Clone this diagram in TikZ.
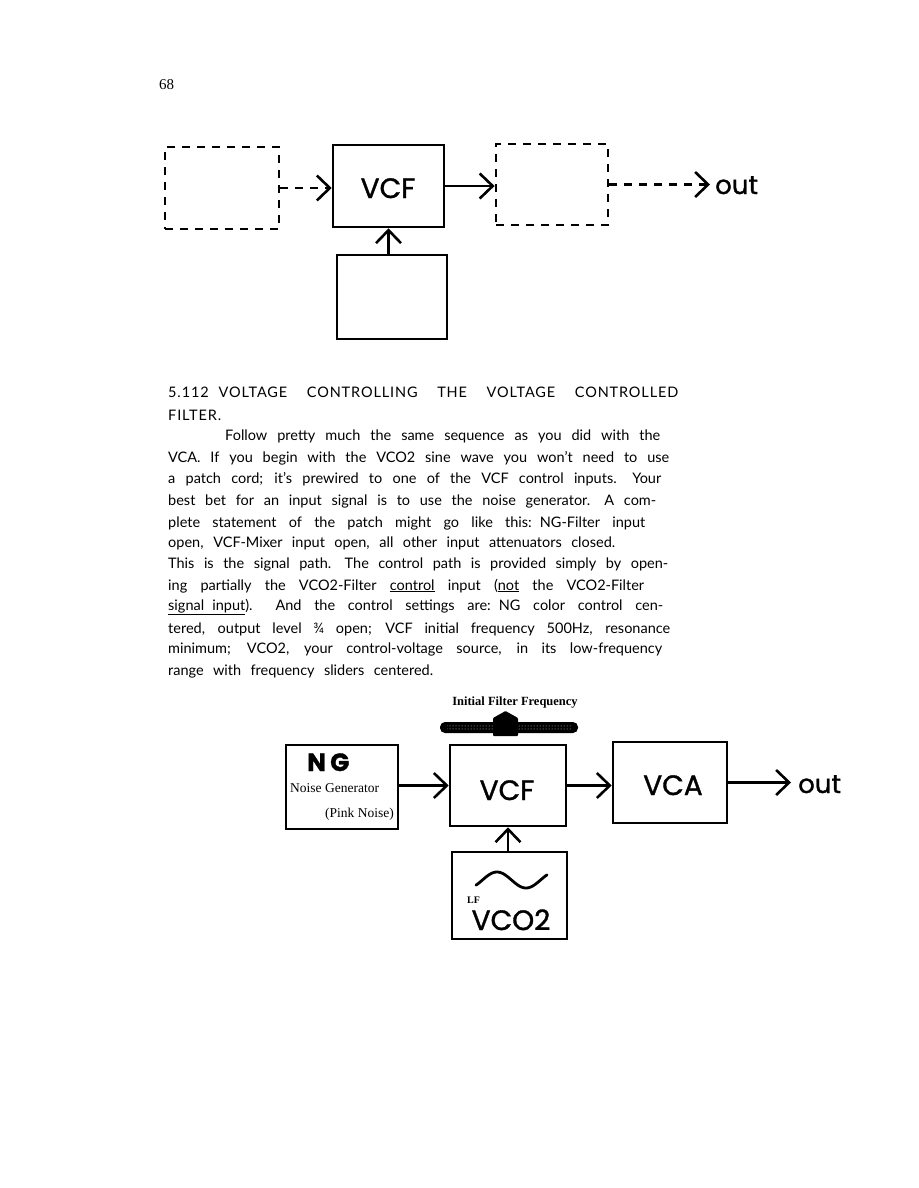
\documentclass[tikz,border=0pt]{standalone}
\usepackage{fontspec}
\setmainfont[WordSpace=2.2]{Lato}
\newfontfamily\headfont[LetterSpace=6, WordSpace=2]{Lato}
\newfontfamily\pop[FakeBold=1.2]{Poppins}
\newfontfamily\tms{Liberation Serif}
\usetikzlibrary{arrows.meta,patterns}
\begin{document}
\begin{tikzpicture}[x=1pt,y=-1pt,
  box/.style={draw, line width=2.6pt, inner sep=0pt},
  dbox/.style={draw, line width=2.8pt, dash pattern=on 8pt off 7pt, inner sep=0pt},
  chev/.style={-{Straight Barb[length=13pt,width=25pt,line width=2.6pt]}, line width=2.6pt},
  dchev/.style={chev, dash pattern=on 8pt off 7pt},
  big/.style={anchor=base, inner sep=0pt, font=\pop\fontsize{28}{30}\selectfont},
  txt/.style={anchor=base west, inner sep=0pt, font=\fontsize{14.5}{18}\selectfont},
  head/.style={anchor=base west, inner sep=0pt, font=\headfont\fontsize{14.5}{18}\selectfont},
  serif/.style={anchor=base west, inner sep=0pt, font=\tms\fontsize{13.5}{15}\selectfont}]
\useasboundingbox (0,0) rectangle (918,1188);
% page number
\node[anchor=base west, inner sep=0pt, font=\tms\fontsize{15}{17}\selectfont] (pg) at (159,90) {68};
% ---------- top diagram ----------
\node[dbox, minimum width=114pt, minimum height=82pt] (d1) at (222,188) {};
\node[box, minimum width=111pt, minimum height=82pt] (vcfa) at (388.5,186) {};
\node[big] (vcfat) at (388,198) {VCF};
\node[box, minimum width=110pt, minimum height=84pt] (ctla) at (392,297) {};
\node[dbox, minimum width=112pt, minimum height=81pt] (d2) at (552,184.5) {};
\node[anchor=base west, inner sep=0pt, font=\pop\fontsize{26}{28}\selectfont] (outa) at (715,194) {out};
\draw[dchev] (d1.east) -- (d1.east -| vcfa.west);
\draw[chev] (vcfa.east) -- (vcfa.east -| d2.west);
\draw[dchev, shorten >=5pt] (d2.east) -- (d2.east -| outa.west);
\draw[chev] (ctla.north -| vcfa.south) -- (vcfa.south);
% ---------- text ----------
\node[head] (l1) at (168,397) {\makebox[510pt][s]{5.112\hspace{10pt}VOLTAGE CONTROLLING THE VOLTAGE CONTROLLED}};
\node[head] (l2) at (168,420) {FILTER.};
\node[txt] (l3) at (225,440) {\makebox[435pt][s]{Follow pretty much the same sequence as you did with the}};
\node[txt] (l4) at (168,462) {\makebox[501pt][s]{VCA. If you begin with the VCO2 sine wave you won't need to use}};
\node[txt] (l5) at (168,483) {\makebox[493pt][s]{a patch cord; it's prewired to one of the VCF control inputs. Your}};
\node[txt] (l6) at (168,505) {\makebox[488pt][s]{best bet for an input signal is to use the noise generator. A com-}};
\node[txt] (l7) at (168,527) {\makebox[477pt][s]{plete statement of the patch might go like this:\hspace{8pt}NG-Filter input}};
\node[txt] (l8) at (168,547) {\makebox[447pt][s]{open, VCF-Mixer input open, all other input attenuators closed.}};
\node[txt] (l9) at (168,568) {\makebox[500pt][s]{This is the signal path. The control path is provided simply by open-}};
\node[txt] (l10) at (168,590) {\makebox[476pt][s]{ing partially the VCO2-Filter \underline{control} input (\underline{not} the VCO2-Filter}};
\node[txt] (l11) at (168,610) {\makebox[495pt][s]{\underline{signal input}). And the control settings are:\hspace{8pt}NG color control cen-}};
\node[txt] (l12) at (168,633) {\makebox[502pt][s]{tered, output level ¾ open; VCF initial frequency 500Hz, resonance}};
\node[txt] (l13) at (168,653) {\makebox[494pt][s]{minimum; VCO2, your control-voltage source, in its low-frequency}};
\node[txt] (l14) at (168,675) {\makebox[265pt][s]{range with frequency sliders centered.}};
% ---------- bottom diagram ----------
\node[anchor=base, inner sep=0pt, font=\tms\bfseries\fontsize{12.5}{14}\selectfont] (iff) at (515,705) {Initial Filter Frequency};
\fill[black, rounded corners=5pt] (440,722) rectangle (578,733);
\fill[pattern=dots, pattern color=gray!40] (447,724.5) rectangle (571,730.5);
\fill[black, rounded corners=1pt] (493,736) -- (493,718) -- (505.5,711) -- (518,718) -- (518,736) -- cycle;
\node[box, minimum width=112pt, minimum height=84pt] (ng) at (342,787) {};
\node[box, minimum width=116pt, minimum height=81pt] (vcfb) at (508,785.5) {};
\node[big] (vcfbt) at (507,800) {VCF};
\node[box, minimum width=114pt, minimum height=81pt] (vca) at (670,782.5) {};
\node[big] (vcat) at (673,795) {VCA};
\node[box, minimum width=115pt, minimum height=87pt] (vco) at (509.5,895.5) {};
\node[anchor=base west, inner sep=0pt, font=\pop\bfseries\fontsize{25}{27}\selectfont] (ngt) at (307,771) {N\,G};
\node[serif] (ngs) at (290,792) {Noise Generator};
\node[serif] (pink) at (325,817) {(Pink Noise)};
\node[anchor=base west, inner sep=0pt, font=\tms\bfseries\fontsize{10}{12}\selectfont] (lf) at (467,903) {LF};
\node[big] (vcot) at (511,930) {VCO2};
\node[anchor=base west, inner sep=0pt, font=\pop\fontsize{26}{28}\selectfont] (outb) at (798,793) {out};
\draw[line width=2.8pt, line cap=round, domain=-40:400, samples=60, smooth]
  plot ({476 + (\x+40)/440*71}, {880 - 8*sin(\x)});
\draw[chev] (ng.east |- vcfb.west) -- (vcfb.west);
\draw[chev] (vcfb.east) -- (vcfb.east -| vca.west);
\draw[chev, shorten >=7pt] (vca.east) -- (vca.east -| outb.west);
\draw[chev] (vco.north -| vcfb.south) -- (vcfb.south);
\end{tikzpicture}
\end{document}
